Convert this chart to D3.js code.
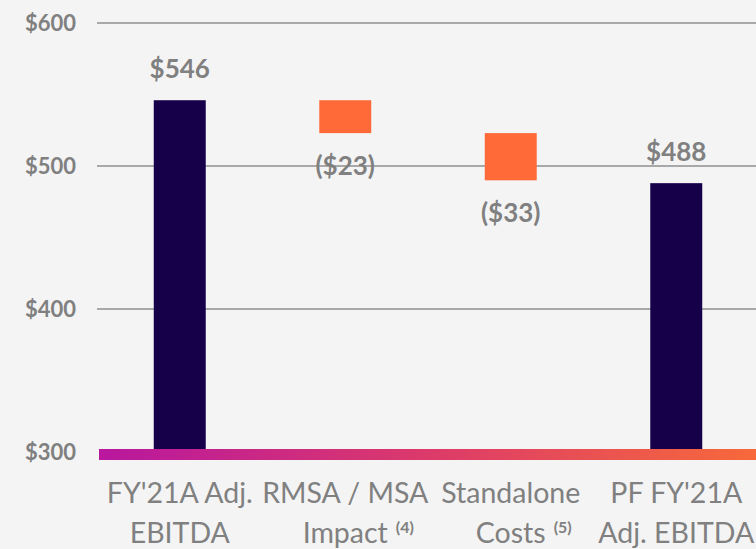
<!DOCTYPE html>
<html>
<head>
<meta charset="utf-8">
<script src="https://cdn.jsdelivr.net/npm/d3@7"></script>
<style>
  html, body { margin: 0; padding: 0; background: #f4f4f4; }
  svg { display: block; }
</style>
</head>
<body>
<div id="chart"></div>
<script>
// chart data
const categories = ["FY'21A Adj. EBITDA", "RMSA / MSA Impact", "Standalone Costs", "PF FY'21A Adj. EBITDA"];
const labelLines = [["FY'21A Adj.", "EBITDA"], ["RMSA / MSA", "Impact"], ["Standalone", "Costs"], ["PF FY'21A", "Adj. EBITDA"]];
const footnotes = ["", "(4)", "(5)", ""];
const values = [546, -23, -33, 488];
const kinds = ["total", "delta", "delta", "total"];
const valueLabels = ["$546", "($23)", "($33)", "$488"];
const yTicks = [300, 400, 500, 600];
const yTickLabels = ["$300", "$400", "$500", "$600"];

const width = 756, height = 549;
const font = "Lato, 'Open Sans', sans-serif";
const grey = "#808080";

// build waterfall segments
let running = 0;
const bars = values.map((v, i) => {
    let lo, hi;
    if (kinds[i] === "total") {
        running = v;
        lo = 300; hi = v;
    } else {
        const start = running;
        running = running + v;
        lo = Math.min(start, running);
        hi = Math.max(start, running);
    }
    return { cat: categories[i], lo, hi, kind: kinds[i], label: valueLabels[i], i };
});

const svg = d3.select("#chart").append("svg")
    .attr("width", width)
    .attr("height", height)
    .attr("viewBox", [0, 0, width, height]);

svg.append("rect").attr("width", width).attr("height", height).attr("fill", "#f4f4f4");

const x = d3.scaleBand()
    .domain(categories)
    .range([97, 759])
    .paddingInner(0.686)
    .paddingOuter(0.343);

const y = d3.scaleLinear()
    .domain([300, 600])
    .range([452, 23]);

// gridlines
svg.append("g")
    .selectAll("line")
    .data(yTicks.filter(t => t > 300))
    .join("line")
    .attr("x1", 97)
    .attr("x2", width)
    .attr("y1", d => y(d))
    .attr("y2", d => y(d))
    .attr("stroke", "#a8a8a8")
    .attr("stroke-width", 2);

// y axis labels
svg.append("g")
    .selectAll("text")
    .data(yTicks)
    .join("text")
    .attr("x", 76)
    .attr("y", d => y(d))
    .attr("dy", "0.36em")
    .attr("text-anchor", "end")
    .attr("font-family", font)
    .attr("font-weight", "bold")
    .attr("font-size", 22)
    .attr("fill", grey)
    .text((d, i) => yTickLabels[i]);

// bars
svg.append("g")
    .selectAll("rect")
    .data(bars)
    .join("rect")
    .attr("x", d => x(d.cat))
    .attr("width", x.bandwidth())
    .attr("y", d => y(d.hi))
    .attr("height", d => y(d.lo) - y(d.hi))
    .attr("fill", d => d.kind === "total" ? "#17004a" : "#ff6a38");

// gradient baseline
const grad = svg.append("defs").append("linearGradient")
    .attr("id", "base-grad")
    .attr("x1", "0%").attr("x2", "100%")
    .attr("y1", "0%").attr("y2", "0%");
grad.append("stop").attr("offset", "0%").attr("stop-color", "#b8179f");
grad.append("stop").attr("offset", "50%").attr("stop-color", "#dc3a6a");
grad.append("stop").attr("offset", "100%").attr("stop-color", "#f7693a");

svg.append("rect")
    .attr("x", 99)
    .attr("y", y(300) - 3)
    .attr("width", width - 99)
    .attr("height", 11)
    .attr("fill", "url(#base-grad)");

// value labels
svg.append("g")
    .selectAll("text")
    .data(bars)
    .join("text")
    .attr("x", d => x(d.cat) + x.bandwidth() / 2)
    .attr("y", d => d.kind === "total" ? y(d.hi) - 22 : y(d.lo) + 42)
    .attr("text-anchor", "middle")
    .attr("font-family", font)
    .attr("font-weight", "bold")
    .attr("font-size", 26)
    .attr("fill", grey)
    .text(d => d.label);

// category labels
const catG = svg.append("g");
categories.forEach((c, i) => {
    const cx = x(c) + x.bandwidth() / 2;
    labelLines[i].forEach((line, j) => {
        const t = catG.append("text")
            .attr("x", cx)
            .attr("y", 503 + j * 40)
            .attr("text-anchor", "middle")
            .attr("font-family", font)
            .attr("font-size", 28.5)
            .attr("fill", grey)
            .text(line);
        if (j === 1 && footnotes[i]) {
            const w = t.node().getComputedTextLength();
            catG.append("text")
                .attr("x", cx + w / 2 + 8)
                .attr("y", 503 + j * 40 - 10)
                .attr("font-family", font)
                .attr("font-weight", "bold")
                .attr("font-size", 16)
                .attr("fill", grey)
                .text(footnotes[i]);
        }
    });
});
</script>
</body>
</html>
